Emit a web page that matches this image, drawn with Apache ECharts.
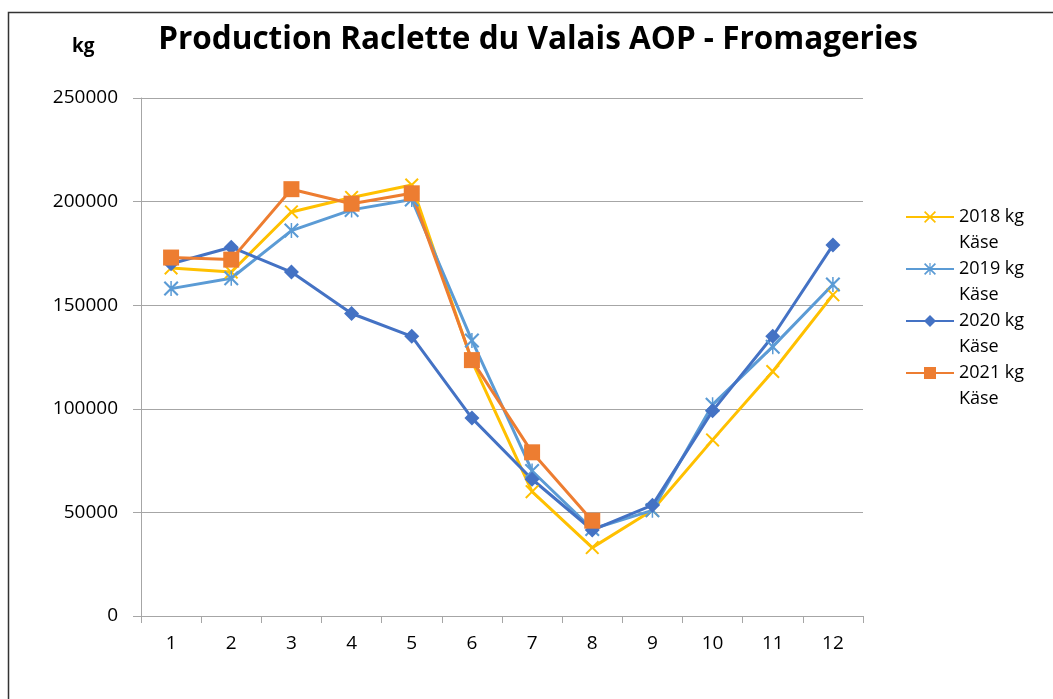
<!DOCTYPE html>
<html>
<head>
<meta charset="utf-8">
<script src="https://cdn.jsdelivr.net/npm/echarts@6/dist/echarts.min.js"></script>
<style>
  html, body { margin: 0; padding: 0; background: #fff; }
  #chart { width: 1053px; height: 699px; }
</style>
</head>
<body>
<div id="chart"></div>
<script>
  // Monate
  const months = ['1', '2', '3', '4', '5', '6', '7', '8', '9', '10', '11', '12'];
  const yTicks = [0, 50000, 100000, 150000, 200000, 250000];

  const kg2018 = [168000, 166000, 195000, 202000, 208000, 123000, 60000, 33000, 51000, 85000, 118000, 155000];
  const kg2019 = [158000, 163000, 186000, 196000, 201000, 133000, 70000, 42000, 51000, 102000, 130000, 160000];
  const kg2020 = [170000, 178000, 166000, 146000, 135000, 95500, 66000, 41500, 53500, 99000, 135000, 179000];
  const kg2021 = [173000, 172000, 206000, 199000, 204000, 123500, 79000, 46000, null, null, null, null];

  const seriesNames = ['2018 kg Käse', '2019 kg Käse', '2020 kg Käse', '2021 kg Käse'];

  const font = '"Open Sans", "Liberation Sans", sans-serif';
  const crossSym = 'path://M0,1L1,0L5,4L9,0L10,1L6,5L10,9L9,10L5,6L1,10L0,9L4,5Z';
  const starSym = 'path://M0,1L1,0L5,4L9,0L10,1L6,5L10,9L9,10L5,6L1,10L0,9L4,5Z M4.5,0L5.5,0L5.5,10L4.5,10Z';

  const myChart = echarts.init(document.getElementById('chart'));

  const makeSeries = (name, data, color, symbol, size) => ({
    name: name,
    type: 'line',
    data: data,
    symbol: symbol,
    symbolSize: size,
    showSymbol: true,
    connectNulls: false,
    lineStyle: { color: color, width: 3 },
    itemStyle: { color: color, borderWidth: 0 },
    z: 2
  });

  const option = {
    animation: false,
    backgroundColor: '#fff',
    title: {
      text: 'Production Raclette du Valais AOP - Fromageries',
      left: 533,
      textAlign: 'center',
      top: 19,
      textStyle: { fontFamily: font, fontWeight: 'bold', fontSize: 31.5, color: '#000' }
    },
    graphic: [
      {
        type: 'rect',
        shape: { x: 8.5, y: 12.5, width: 1060, height: 700 },
        style: { fill: 'none', stroke: '#333', lineWidth: 1.5 },
        silent: true
      },
      {
        type: 'text',
        left: 72,
        top: 37,
        style: { text: 'kg', fontFamily: font, fontWeight: 'bold', fontSize: 19, fill: '#000' }
      }
    ],
    legend: {
      orient: 'vertical',
      left: 900,
      top: 173,
      itemWidth: 48,
      itemHeight: 15,
      itemGap: -26,
      data: seriesNames,
      formatter: function (name) {
        const parts = name.split(' ');
        return '\n' + parts[0] + ' ' + parts[1] + '\n' + parts[2];
      },
      textStyle: { fontFamily: font, fontSize: 18, color: '#000', lineHeight: 26 }
    },
    grid: {
      left: 141,
      right: 190,
      top: 98,
      bottom: 83,
      containLabel: false
    },
    xAxis: {
      type: 'category',
      data: months,
      boundaryGap: true,
      axisLine: { show: true, lineStyle: { color: '#a6a6a6', width: 1 } },
      axisTick: { show: true, length: 7, alignWithLabel: false, lineStyle: { color: '#a6a6a6' } },
      axisLabel: { fontFamily: font, fontSize: 19, color: '#000', margin: 18 },
      splitLine: { show: false }
    },
    yAxis: {
      type: 'value',
      min: yTicks[0],
      max: yTicks[yTicks.length - 1],
      interval: yTicks[1] - yTicks[0],
      axisLine: { show: true, lineStyle: { color: '#a6a6a6', width: 1 } },
      axisTick: { show: true, length: 8, lineStyle: { color: '#a6a6a6' } },
      axisLabel: {
        fontFamily: font, fontSize: 19, color: '#000', margin: 23,
        formatter: function (v) { return String(v); }
      },
      splitLine: { show: true, lineStyle: { color: '#a6a6a6', width: 1 } }
    },
    series: [
      makeSeries(seriesNames[0], kg2018, '#FFC000', crossSym, 14),
      makeSeries(seriesNames[1], kg2019, '#5B9BD5', starSym, 15),
      makeSeries(seriesNames[2], kg2020, '#4472C4', 'diamond', 15),
      makeSeries(seriesNames[3], kg2021, '#ED7D31', 'rect', 16)
    ]
  };

  myChart.setOption(option);
</script>
</body>
</html>
